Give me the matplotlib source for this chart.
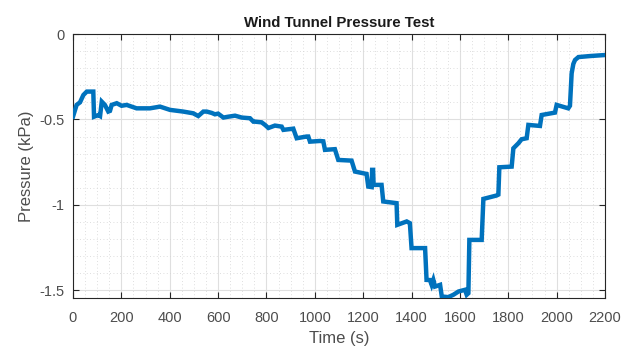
import numpy as np
import matplotlib
matplotlib.use("Agg")
import matplotlib.pyplot as plt
from matplotlib.ticker import MultipleLocator

# values (time in s, pressure in kPa)
time_s = [
    0, 15, 29, 43, 57, 84, 87, 105, 112, 119, 132, 146, 153, 160, 181, 201,
    222, 263, 318, 360, 401, 456, 497, 518, 539, 553, 574, 587, 600, 622,
    642, 670, 698, 732, 746, 753, 780, 794, 808, 835, 863, 870, 911, 925,
    966, 973, 980, 1021, 1035, 1042, 1083, 1097, 1152, 1166, 1214, 1221,
    1235, 1237, 1241, 1243, 1276, 1283, 1338, 1341, 1380, 1393, 1400, 1456,
    1462, 1476, 1483, 1490, 1497, 1518, 1525, 1552, 1573, 1594, 1621, 1628,
    1635, 1639, 1690, 1697, 1752, 1759, 1763, 1814, 1821, 1842, 1855, 1876,
    1883, 1931, 1938, 1993, 2000, 2048, 2055, 2062, 2069, 2076, 2090, 2138,
    2200,
]
pressure_kpa = [
    -0.484, -0.415, -0.400, -0.357, -0.337, -0.337, -0.484, -0.474, -0.480,
    -0.396, -0.415, -0.454, -0.450, -0.415, -0.405, -0.420,
    -0.415, -0.435, -0.435, -0.425, -0.444, -0.454, -0.464, -0.480, -0.454,
    -0.454, -0.462, -0.470, -0.466, -0.489,
    -0.484, -0.478, -0.489, -0.493, -0.513, -0.513, -0.517, -0.532, -0.550,
    -0.536, -0.542, -0.561, -0.554, -0.610,
    -0.600, -0.600, -0.630, -0.626, -0.628, -0.678, -0.674, -0.737, -0.741,
    -0.805, -0.819, -0.893,
    -0.896, -0.795, -0.795, -0.883, -0.883, -0.980, -0.990, -1.117, -1.097,
    -1.107, -1.253, -1.253,
    -1.439, -1.440, -1.468, -1.439, -1.478, -1.468, -1.536, -1.540, -1.526,
    -1.507, -1.497, -1.526,
    -1.517, -1.205, -1.205, -0.965, -0.945, -0.940, -0.780, -0.776, -0.669,
    -0.639, -0.616, -0.610,
    -0.532, -0.538, -0.474, -0.460, -0.415, -0.435, -0.420, -0.230, -0.175,
    -0.152, -0.135, -0.129,
    -0.123,
]

x_ticks = np.arange(0, 2201, 200)
y_ticks = [-1.5, -1, -0.5, 0]
y_tick_labels = ["-1.5", "-1", "-0.5", "0"]

plt.rcParams["font.family"] = ["Liberation Sans", "DejaVu Sans"]

fig = plt.figure(figsize=(6.33, 3.52), dpi=100)
ax = fig.add_axes([0.1153, 0.1534, 0.8405, 0.75])

ax.plot(time_s, pressure_kpa, color=(0, 0.447, 0.741), linewidth=3.2,
        solid_joinstyle="miter", zorder=3)

ax.set_xlim(0, 2200)
ax.set_ylim(-1.545, 0)
ax.set_xticks(x_ticks)
ax.set_yticks(y_ticks)
ax.set_yticklabels(y_tick_labels)
ax.xaxis.set_minor_locator(MultipleLocator(50))
ax.yaxis.set_minor_locator(MultipleLocator(0.1))

dark = (0.15, 0.15, 0.15)
ax.grid(True, which="major", color="#dfdfdf", linewidth=0.8, zorder=0)
ax.grid(True, which="minor", color="#d4d4d4", linewidth=0.6,
        linestyle=(0, (1, 3)), zorder=0)
ax.set_axisbelow(True)

ax.tick_params(which="major", direction="in", length=4, width=0.8,
               colors=dark, labelcolor=(0.3, 0.3, 0.3), labelsize=10.5,
               top=True, right=True)
ax.tick_params(axis="x", which="major", pad=9)
ax.tick_params(axis="y", which="major", pad=6)
ax.tick_params(which="minor", length=0, top=True, right=True)
for side in ax.spines.values():
    side.set_color(dark)
    side.set_linewidth(0.8)

ax.set_title("Wind Tunnel Pressure Test", fontsize=10.8, fontweight="bold",
             color=(0.1, 0.1, 0.1), pad=5)
ax.set_xlabel("Time (s)", fontsize=12, color=(0.3, 0.3, 0.3), labelpad=5)
ax.set_ylabel("Pressure (kPa)", fontsize=12, color=(0.3, 0.3, 0.3), labelpad=4)

fig.savefig("out.png", dpi=100)
